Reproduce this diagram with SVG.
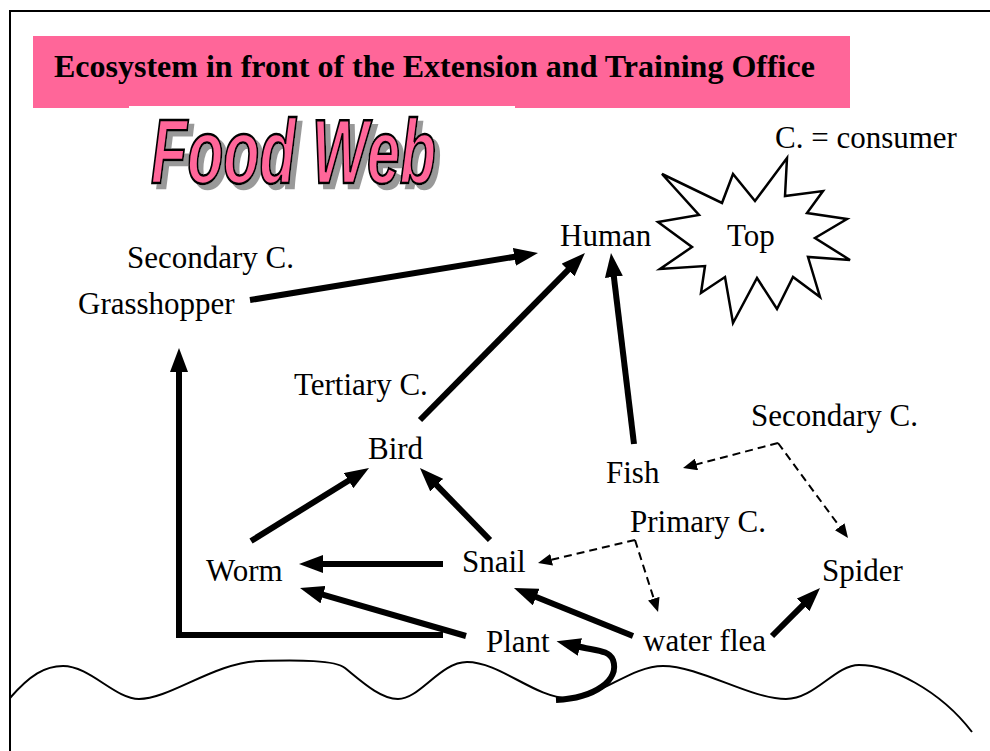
<svg xmlns="http://www.w3.org/2000/svg" width="990" height="751" viewBox="0 0 990 751">
<defs>
<marker id="ah" viewBox="0 0 24 18" markerWidth="24" markerHeight="18" markerUnits="userSpaceOnUse" refX="4" refY="9" orient="auto"><path d="M0,0 L24,9 L0,18 Z" fill="#000"/></marker>
<marker id="dh" viewBox="0 0 14 12" markerWidth="14" markerHeight="12" markerUnits="userSpaceOnUse" refX="2" refY="6" orient="auto"><path d="M0,0 L14,6 L0,12 Z" fill="#000"/></marker>
<filter id="shadow" x="-10%" y="-20%" width="130%" height="150%">
<feOffset in="SourceAlpha" dx="5" dy="5" result="off"/>
<feFlood flood-color="#999999" result="col"/>
<feComposite in="col" in2="off" operator="in" result="sh"/>
<feMerge><feMergeNode in="sh"/><feMergeNode in="SourceGraphic"/></feMerge>
</filter>
</defs>
<style>
.lbl{font-family:"Liberation Serif","Times New Roman",serif;font-size:31px;fill:#000}
.thick{stroke:#000;stroke-width:6;fill:none;marker-end:url(#ah)}
.dash{stroke:#000;stroke-width:2;fill:none;stroke-dasharray:8,5;marker-end:url(#dh)}
</style>
<rect width="990" height="751" fill="#fff"/>
<path d="M10,751 L10,11 L990,11" fill="none" stroke="#000" stroke-width="2"/>
<g id="title">
<rect x="33" y="36" width="817" height="72" fill="#FF6699"/>
<rect x="129" y="106" width="386" height="3" fill="#fff"/>
<text x="54" y="77" style="font-family:'Liberation Serif','Times New Roman',serif;font-weight:bold;font-size:32px" fill="#000">Ecosystem in front of the Extension and Training Office</text>
</g>
<g id="foodweb">
<text x="151" y="183" style="font-family:'Liberation Sans',Arial,sans-serif;font-weight:bold;font-style:italic;font-size:90px" textLength="285" lengthAdjust="spacingAndGlyphs" fill="#FF6699" stroke="#000" stroke-width="2.5" filter="url(#shadow)">Food Web</text>
</g>
<text class="lbl" x="775" y="148">C. = consumer</text>
<g id="ground"><path d="M10,698 C30,675 45,666 63,666 C90,666 115,699 139,699 C170,699 215,662 260,661 C300,660 335,660 345,668 C360,680 380,699 398,699 C420,699 440,662 467,662 C500,662 535,698 568,698 C600,698 630,666 663,666 C700,666 750,699 786,699 C815,699 835,665 859,665 C890,665 940,690 972,732" fill="none" stroke="#000" stroke-width="2"/></g>
<g id="top">
<polygon points="662,174 722,203 733,174 755,201 787,158 785,196 823,191 807,213 847,219 815,238 850,260 808,257 820,297 793,277 777,309 757,278 733,323 725,277 701,293 705,266 660,269 692,247 658,222 699,215" fill="#fff" stroke="#000" stroke-width="2.5" stroke-linejoin="miter"/>
<text class="lbl" x="727" y="246">Top</text>
</g>
<g id="human"><text class="lbl" x="560" y="246">Human</text></g>
<g id="grasshopper"><text class="lbl" x="127" y="268">Secondary C.</text><text class="lbl" x="78" y="314">Grasshopper</text></g>
<g id="bird"><text class="lbl" x="294" y="395">Tertiary C.</text><text class="lbl" x="368" y="459">Bird</text></g>
<g id="fish"><text class="lbl" x="751" y="426">Secondary C.</text><text class="lbl" x="606" y="483">Fish</text></g>
<g id="primary"><text class="lbl" x="630" y="532">Primary C.</text></g>
<g id="worm"><text class="lbl" x="206" y="581">Worm</text></g>
<g id="snail"><text class="lbl" x="462" y="572">Snail</text></g>
<g id="spider"><text class="lbl" x="822" y="581">Spider</text></g>
<g id="plant"><text class="lbl" x="486" y="652">Plant</text></g>
<g id="waterflea"><text class="lbl" x="643" y="651">water flea</text></g>
<g id="connectors">
<line class="thick" x1="250" y1="300" x2="518.3" y2="256.2"/>
<line class="thick" x1="420" y1="420" x2="570.9" y2="267.2"/>
<line class="thick" x1="634" y1="444" x2="613.4" y2="272.9"/>
<line class="thick" x1="251" y1="541" x2="352" y2="478.5"/>
<line class="thick" x1="490" y1="540" x2="433.9" y2="482.3"/>
<line class="thick" x1="443" y1="564" x2="319" y2="564"/>
<line class="thick" x1="466" y1="636" x2="319.2" y2="593.6"/>
<path class="thick" d="M443,635 L179,635 L179,368"/>
<line class="thick" x1="633" y1="636" x2="532.5" y2="595.5"/>
<line class="thick" x1="772" y1="636" x2="805.9" y2="602.1"/>
<path class="thick" d="M556,700 C595,698 620,680 613,660 C609,650 597,651 576,646"/>
<path class="dash" d="M778,443 L694.6,464.9"/>
<path class="dash" d="M778,443 L840.9,528.3"/>
<path class="dash" d="M635,540 L549.7,560.2"/>
<path class="dash" d="M635,540 L654.4,600.6"/>
</g>
</svg>
